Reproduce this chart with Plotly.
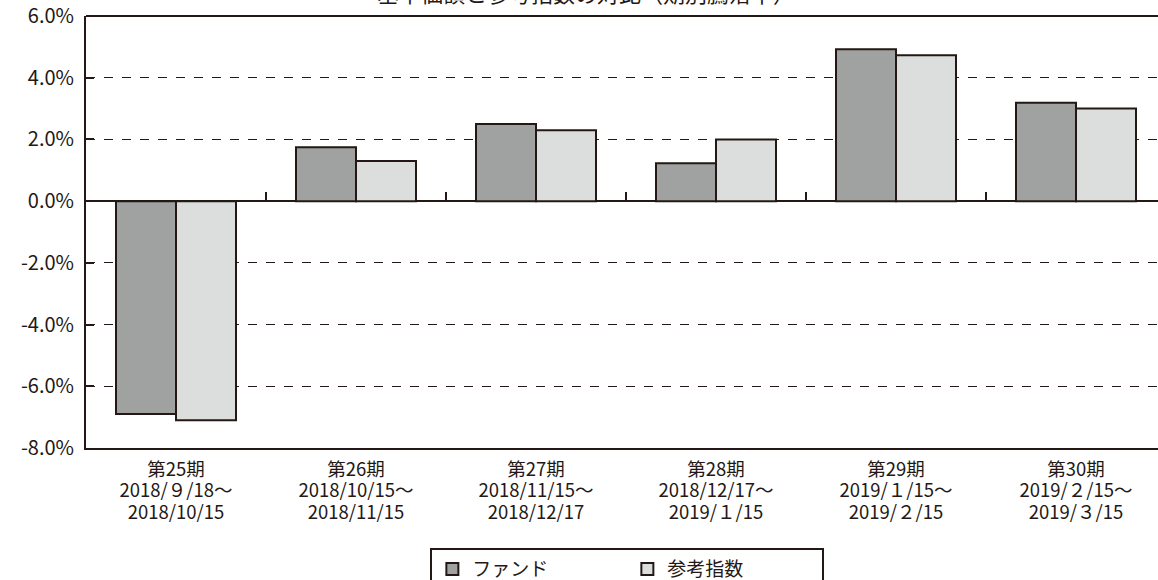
import plotly.graph_objects as go

period_names = ["第25期", "第26期", "第27期", "第28期", "第29期", "第30期"]
period_starts = ["2018/９/18～", "2018/10/15～", "2018/11/15～", "2018/12/17～", "2019/１/15～", "2019/２/15～"]
period_ends = ["2018/10/15", "2018/11/15", "2018/12/17", "2019/１/15", "2019/２/15", "2019/３/15"]
fund = [-6.9, 1.75, 2.5, 1.23, 4.92, 3.19]
ref_index = [-7.1, 1.3, 2.3, 2.0, 4.73, 3.0]
series_names = ["ファンド", "参考指数"]
y_ticks = [6, 4, 2, 0, -2, -4, -6, -8]
y_tick_text = ["6.0%", "4.0%", "2.0%", "0.0%", "-2.0%", "-4.0%", "-6.0%", "-8.0%"]
title_text = "基準価額と参考指数の対比（期別騰落率）"

FONT = "Noto Sans CJK JP"
INK = "#231815"

def big(s):
    return f'<span style="font-size:18.5px">{s}</span>'

categories = ["<br>".join(big(p) for p in parts)
              for parts in zip(period_names, period_starts, period_ends)]
xs = list(range(len(categories)))

fig = go.Figure()
fig.add_trace(go.Bar(x=xs, y=fund, name=series_names[0],
                     marker=dict(color="#a0a2a1", line=dict(color=INK, width=2))))
fig.add_trace(go.Bar(x=xs, y=ref_index, name=series_names[1],
                     marker=dict(color="#dcdedd", line=dict(color=INK, width=2))))

xr = [-0.5, len(categories) - 0.5 - 8 / 180]

fig.update_layout(
    width=1158, height=580,
    margin=dict(l=86, r=0, t=16, b=132, autoexpand=False),
    paper_bgcolor="white", plot_bgcolor="white",
    barmode="group", bargap=1/3, bargroupgap=0,
    font=dict(family=FONT, size=16, color=INK),
    showlegend=True,
    legend=dict(orientation="h", x=0.505, xanchor="center", y=-0.232, yanchor="top",
                bordercolor=INK, borderwidth=2, font=dict(size=19, family=FONT),
                entrywidth=150, itemwidth=30, traceorder="normal"),
    xaxis=dict(
        tickmode="array", tickvals=xs, ticktext=categories,
        range=xr, showgrid=False, zeroline=False, automargin=False,
        showline=True, linecolor=INK, linewidth=2, ticks="", mirror=False,
        ticklabelstandoff=6,
        tickfont=dict(size=16.5, family=FONT, color=INK),
    ),
    xaxis2=dict(
        overlaying="x", anchor="free", position=8/14, range=xr,
        tickmode="array", tickvals=[0.5, 1.5, 2.5, 3.5, 4.5],
        ticks="inside", ticklen=9, tickwidth=2, tickcolor=INK, automargin=False,
        showticklabels=False, showline=False, showgrid=False, zeroline=False,
    ),
    yaxis=dict(
        range=[-8, 6], tickmode="array", tickvals=y_ticks, ticktext=y_tick_text,
        showgrid=True, gridcolor=INK, gridwidth=1.3, griddash="dash",
        zeroline=True, zerolinecolor=INK, zerolinewidth=2, automargin=False,
        showline=True, linecolor=INK, linewidth=2,
        ticks="inside", ticklen=8, tickwidth=2, tickcolor=INK,
        ticklabelstandoff=6,
        tickfont=dict(size=20, family=FONT, color=INK),
    ),
)
# top border line
fig.add_shape(type="line", xref="paper", yref="paper", x0=0, x1=1, y0=1, y1=1,
              line=dict(color=INK, width=2))
# invisible trace so the tick axis on the zero line is drawn
fig.add_trace(go.Scatter(x=[0], y=[0], xaxis="x2", mode="markers",
                         marker=dict(opacity=0), showlegend=False, hoverinfo="skip"))

fig.add_annotation(text=title_text, xref="paper", yref="paper", x=0.466, y=1.0135,
                   xanchor="center", yanchor="bottom", showarrow=False,
                   font=dict(size=22, family=FONT, color=INK))

fig.write_html("out.html", config={"displayModeBar": False},
               post_script="document.body.style.margin='0';document.body.style.overflow='hidden';")
